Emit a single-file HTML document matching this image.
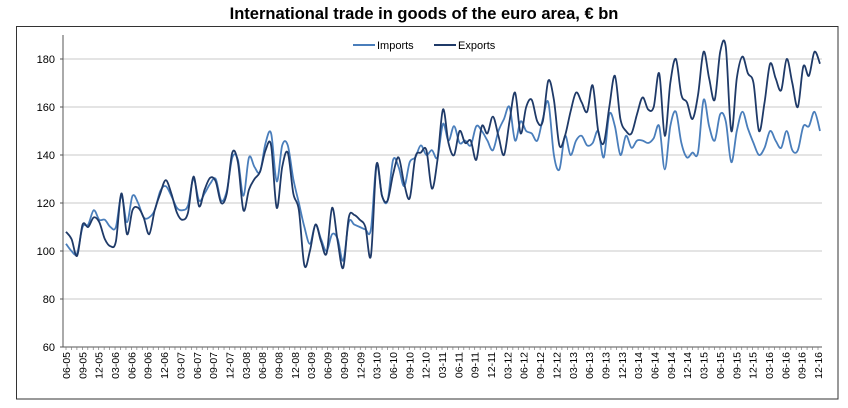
<!DOCTYPE html>
<html><head><meta charset="utf-8"><style>
body{margin:0;background:#fff;font-family:"Liberation Sans",sans-serif}
svg{display:block}
</style></head><body>
<svg id="c" width="848" height="408" xmlns="http://www.w3.org/2000/svg">
<text x="424" y="19" text-anchor="middle" font-size="16.5" font-weight="bold" fill="#000">International trade in goods of the euro area, € bn</text>
<rect x="16.5" y="26.5" width="821.5" height="372.5" fill="none" stroke="#333" stroke-width="1"/>
<g id="grid"></g><g id="axes"></g><g id="lines"></g>
<g>
<line x1="353" y1="45" x2="375" y2="45" stroke="#4a7ebb" stroke-width="2"/>
<text x="377" y="49" font-size="11">Imports</text>
<line x1="434" y1="45" x2="456" y2="45" stroke="#1f3a68" stroke-width="2"/>
<text x="458" y="49" font-size="11">Exports</text>
</g>
</svg>
<script>
const yTicks=[60,80,100,120,140,160,180];
const exportsData=[108,105,98,111,110,114,112,105,102,104,124,107,117,118,114,107,117,124,129.5,124,116,113,116,131,118.6,125.6,130.5,129,120,124,141,137,117,125.6,130,133,142,144,118,135,141,124,117,94,100,111,104,99,118,104,93,114,115,113,110,98,136,123,121,132,139,128,122,139,141,142,126,138,159,145,140,150,145,146,138,152,149,156,148,140,154,166,149,160,163,154,154,171,163,144,148,158,166,162,158,169,150,145,160,173,155,150,149,157,164,159,160,174,148,170,180,165,162,155,165,183,172,163,183,185,150,172,181,174,170,150,162,178,172,167,180,170,160,177,173,183,178];
const importsData=[103,100,99,110,111,117,113,113,110,110,123,112,123,120,114,114,117,125,127,123,118,117,119,130,121,124,128,130,121,125,139,138,123,139,135,133,145,149,129,144,144,130,120,110,103,111,105,100,107,105,96,112,111,110,109,109,136,123,121,138,135,127,137,139,144,140,142,139,153,146,152,145,146,144,152,150,146,142,150,155,160,146,154,150,149,146,155,162,140,134,148,140,146,148,144,145,150,139,157,152,140,148,143,146,146,145,147,152,134,152,158,145,139,141,141,163,152,146,157,154,137,150,158,151,145,140,143,150,146,143,150,142,142,152,152,158,150];
const xLabels=[];
const yrs=['05','06','07','08','09','10','11','12','13','14','15','16'];
for(const y of yrs){for(const m of ['03','06','09','12']){if(y==='05'&&m==='03')continue;xLabels.push(m+'-'+y);}}
const NS='http://www.w3.org/2000/svg';
const svg=document.getElementById('c');
const X0=63,X1=822,Y0=347,Y1=59;
const yS=v=>Y0-(v-60)*(Y0-Y1)/120;
const nMonths=139;
const mX=i=>66+i*(818-66)/(nMonths-1);
const dX=j=>66+j*(820-66)/(exportsData.length-1);
function mk(tag,attrs,parent){const e=document.createElementNS(NS,tag);for(const k in attrs)e.setAttribute(k,attrs[k]);parent.appendChild(e);return e;}
const grid=document.getElementById('grid'),axes=document.getElementById('axes'),lines=document.getElementById('lines');
yTicks.forEach(t=>{
  if(t>60){const g=mk('line',{x1:X0,x2:X1,y1:yS(t),y2:yS(t),stroke:'#c8c8c8','stroke-width':1},grid);
  
  }
  mk('line',{x1:X0-3,x2:X0,y1:yS(t),y2:yS(t),stroke:'#555'},axes);
  const tx=mk('text',{x:X0-8,y:yS(t)+4,'text-anchor':'end','font-size':11,fill:'#000'},axes);
  tx.textContent=t;
  
  
});
const ya=mk('line',{x1:X0,x2:X0,y1:35,y2:Y0,stroke:'#555'},axes);


const xa=mk('line',{x1:X0,x2:X1,y1:Y0,y2:Y0,stroke:'#555'},axes);


for(let i=0;i<nMonths;i++){mk('line',{x1:mX(i),x2:mX(i),y1:Y0,y2:Y0+3,stroke:'#777','stroke-width':0.7},axes);}
xLabels.forEach((l,k)=>{
  const x=mX(k*3)+4;
  const t=mk('text',{x:0,y:0,transform:`translate(${x},352) rotate(-90)`,'text-anchor':'end','font-size':10.5,fill:'#000'},axes);
  t.textContent=l;
  
  
});
function path(data){
  const p=data.map((v,j)=>[dX(j),yS(v)]);
  let d=`M${p[0][0]},${p[0][1]}`;
  for(let i=0;i<p.length-1;i++){
    const a=p[Math.max(0,i-1)],b=p[i],c=p[i+1],e=p[Math.min(p.length-1,i+2)];
    const c1=[b[0]+(c[0]-a[0])/6,b[1]+(c[1]-a[1])/6],c2=[c[0]-(e[0]-b[0])/6,c[1]-(e[1]-b[1])/6];
    d+=`C${c1[0].toFixed(1)},${c1[1].toFixed(1)} ${c2[0].toFixed(1)},${c2[1].toFixed(1)} ${c[0].toFixed(1)},${c[1].toFixed(1)}`;
  }
  return d;
}
const li=mk('path',{d:path(importsData),fill:'none',stroke:'#4a7ebb','stroke-width':1.8},lines);


const le=mk('path',{d:path(exportsData),fill:'none',stroke:'#1f3a68','stroke-width':1.8},lines);


</script>
</body></html>
